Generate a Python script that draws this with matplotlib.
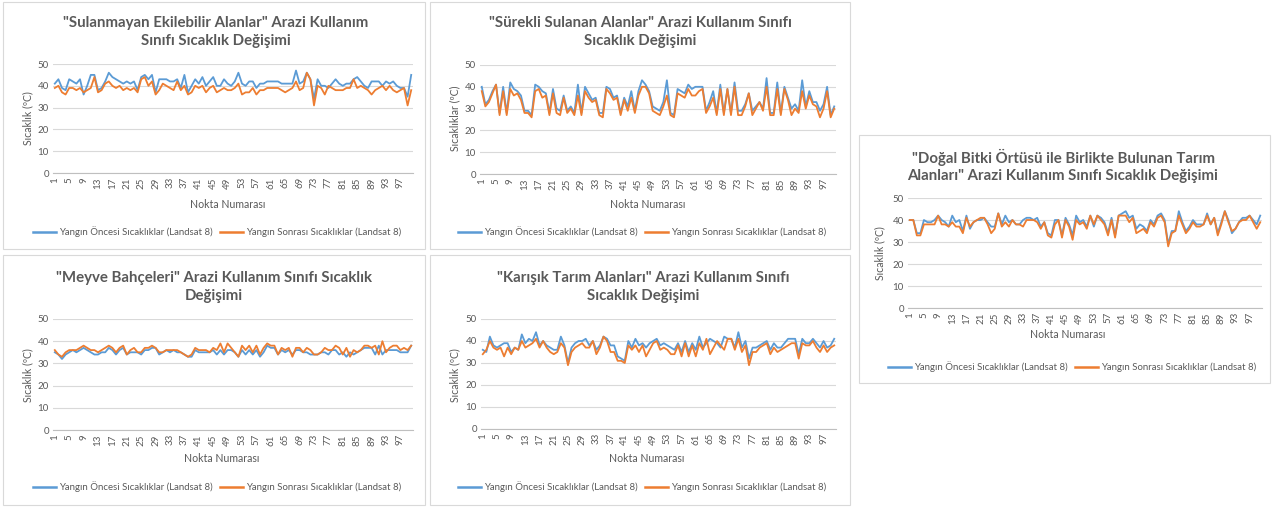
import matplotlib
matplotlib.use("agg")
import matplotlib.pyplot as plt
from matplotlib.patches import Rectangle
from matplotlib.lines import Line2D

plt.rcParams['font.family'] = ['Lato', 'DejaVu Sans']

W, H = 1274, 508
BLUE = '#5B9BD5'
ORANGE = '#ED7D31'
GRAY = '#595959'

legend_labels = ['Yangın Öncesi Sıcaklıklar (Landsat 8)', 'Yangın Sonrası Sıcaklıklar (Landsat 8)']
xlabel = 'Nokta Numarası'

# "Sulanmayan Ekilebilir Alanlar"
sulanmayan_once = [41, 43, 39, 38, 43, 42, 41, 43, 36, 40,
                   45, 45, 38, 39, 42, 46, 44, 43, 42, 41,
                   42, 41, 42, 38, 44, 45, 43, 45, 37, 43,
                   43, 43, 42, 42, 43, 39, 45, 37, 40, 43,
                   41, 44, 40, 42, 44, 40, 40, 43, 41, 40,
                   42, 46, 41, 40, 42, 42, 39, 41, 41, 42,
                   42, 42, 42, 41, 41, 41, 41, 47, 41, 42,
                   46, 43, 34, 43, 40, 40, 39, 41, 43, 41,
                   40, 41, 41, 43, 44, 42, 40, 39, 42, 42,
                   42, 40, 42, 41, 42, 40, 39, 39, 35, 45]
sulanmayan_sonra = [39, 40, 37, 36, 39, 39, 38, 39, 37, 38,
                    39, 44, 37, 38, 41, 42, 40, 39, 40, 38,
                    39, 38, 39, 37, 43, 44, 40, 42, 36, 38,
                    41, 40, 39, 38, 42, 38, 40, 36, 37, 40,
                    39, 40, 37, 39, 40, 37, 38, 39, 38, 38,
                    39, 41, 36, 37, 37, 39, 36, 38, 38, 39,
                    39, 39, 39, 38, 37, 38, 39, 42, 38, 39,
                    46, 43, 31, 40, 39, 36, 40, 39, 38, 38,
                    38, 39, 39, 43, 39, 40, 39, 38, 36, 38,
                    39, 40, 38, 40, 38, 37, 38, 39, 31, 38]

# "Sürekli Sulanan Alanlar"
surekli_once = [40, 32, 34, 38, 41, 28, 40, 28, 42, 39,
                38, 36, 29, 29, 27, 41, 40, 38, 37, 28,
                39, 30, 29, 36, 29, 31, 28, 41, 28, 40,
                37, 34, 35, 28, 28, 40, 39, 35, 36, 28,
                35, 31, 38, 29, 38, 43, 41, 38, 31, 30,
                29, 33, 43, 28, 27, 39, 38, 37, 41, 39,
                40, 40, 40, 29, 33, 38, 28, 41, 28, 39,
                28, 42, 29, 29, 32, 37, 29, 31, 33, 30,
                44, 28, 28, 42, 28, 40, 35, 30, 32, 29,
                43, 31, 38, 33, 33, 29, 32, 40, 27, 31]
surekli_sonra = [38, 31, 33, 37, 41, 27, 38, 27, 39, 36,
                 37, 34, 28, 28, 26, 38, 39, 35, 36, 27,
                 37, 28, 27, 35, 28, 30, 27, 36, 27, 38,
                 35, 33, 34, 27, 26, 39, 37, 34, 35, 27,
                 34, 29, 35, 28, 36, 40, 40, 37, 29, 28,
                 27, 31, 36, 27, 26, 37, 36, 35, 39, 36,
                 36, 38, 39, 28, 31, 35, 27, 39, 27, 39,
                 27, 40, 27, 27, 31, 37, 27, 30, 33, 29,
                 40, 27, 27, 39, 27, 39, 34, 27, 30, 28,
                 38, 30, 36, 32, 31, 26, 30, 38, 26, 30]

# "Meyve Bahçeleri"
meyve_once = [35, 34, 32, 34, 35, 36, 35, 36, 37, 36,
              35, 34, 34, 35, 35, 37, 36, 34, 36, 37,
              34, 35, 35, 35, 34, 36, 36, 37, 37, 34,
              35, 36, 35, 36, 35, 35, 34, 33, 33, 36,
              35, 35, 35, 35, 36, 34, 36, 34, 36, 36,
              35, 33, 36, 34, 36, 34, 36, 33, 35, 38,
              37, 37, 34, 36, 35, 36, 34, 36, 36, 35,
              35, 34, 34, 34, 35, 35, 34, 36, 36, 34,
              35, 33, 35, 34, 35, 36, 37, 37, 37, 34,
              38, 34, 36, 36, 36, 36, 35, 35, 35, 38]
meyve_sonra = [36, 34, 33, 35, 36, 36, 36, 37, 38, 37,
               36, 36, 35, 36, 37, 38, 37, 35, 37, 38,
               34, 36, 37, 35, 35, 37, 37, 38, 37, 35,
               35, 36, 36, 36, 36, 35, 34, 33, 34, 37,
               36, 36, 36, 35, 37, 36, 39, 35, 39, 37,
               35, 33, 38, 36, 38, 35, 38, 34, 37, 39,
               38, 38, 34, 37, 36, 37, 33, 37, 37, 35,
               37, 36, 34, 34, 35, 37, 36, 36, 38, 37,
               34, 37, 33, 36, 35, 36, 38, 38, 37, 38,
               34, 40, 35, 37, 38, 38, 36, 37, 36, 38]

# "Karışık Tarım Alanları"
karisik_once = [36, 35, 42, 38, 37, 38, 39, 39, 35, 37,
                36, 43, 39, 41, 40, 44, 38, 40, 38, 37,
                36, 36, 42, 38, 30, 37, 39, 40, 40, 41,
                38, 40, 36, 38, 42, 41, 38, 38, 33, 32,
                31, 40, 37, 41, 38, 39, 37, 39, 40, 41,
                38, 39, 38, 37, 36, 39, 35, 40, 35, 39,
                36, 42, 37, 39, 41, 40, 39, 37, 42, 41,
                41, 37, 44, 37, 40, 32, 37, 37, 38, 39,
                40, 36, 39, 37, 37, 39, 41, 41, 41, 34,
                41, 39, 39, 41, 39, 37, 40, 37, 38, 41]
karisik_sonra = [34, 36, 40, 37, 36, 37, 33, 37, 34, 37,
                 36, 40, 37, 38, 39, 41, 37, 40, 37, 35,
                 34, 35, 39, 37, 29, 35, 37, 38, 39, 37,
                 37, 40, 34, 37, 42, 40, 35, 35, 31, 31,
                 30, 38, 36, 38, 35, 38, 33, 36, 39, 40,
                 36, 37, 36, 34, 34, 38, 33, 39, 33, 38,
                 33, 39, 36, 41, 34, 37, 40, 38, 36, 41,
                 41, 36, 41, 35, 38, 29, 35, 35, 37, 38,
                 39, 34, 37, 35, 36, 37, 38, 39, 39, 32,
                 39, 38, 38, 40, 37, 35, 38, 35, 37, 38]

# "Doğal Bitki Örtüsü ile Birlikte Bulunan Tarım Alanları"
dogal_once = [40, 40, 34, 34, 40, 39, 39, 40, 42, 40,
              39, 37, 42, 39, 40, 35, 42, 36, 39, 40,
              40, 41, 39, 37, 37, 43, 38, 42, 39, 40,
              38, 38, 40, 41, 41, 40, 41, 37, 39, 34,
              33, 40, 40, 33, 41, 38, 33, 42, 39, 40,
              37, 42, 37, 42, 41, 39, 34, 41, 33, 42,
              43, 44, 41, 42, 36, 38, 37, 35, 40, 38,
              42, 43, 40, 29, 35, 35, 44, 39, 35, 37,
              40, 38, 38, 38, 43, 38, 41, 34, 39, 44,
              40, 34, 36, 39, 41, 41, 42, 40, 38, 42]
dogal_sonra = [40, 40, 33, 33, 38, 38, 38, 38, 42, 38,
               38, 37, 39, 37, 37, 34, 41, 37, 39, 40,
               41, 41, 38, 34, 36, 43, 37, 39, 37, 40,
               38, 38, 37, 40, 40, 40, 39, 36, 39, 33,
               32, 38, 40, 32, 40, 37, 31, 40, 38, 39,
               36, 42, 38, 42, 40, 38, 33, 40, 32, 42,
               42, 42, 39, 41, 34, 35, 36, 34, 39, 37,
               41, 42, 39, 28, 34, 35, 42, 38, 34, 36,
               39, 37, 37, 38, 42, 38, 41, 33, 38, 44,
               39, 35, 36, 39, 40, 40, 42, 39, 36, 39]

points = list(range(1, 101))
tick_pos = list(range(1, 101, 4))

panels = [
    # title, ylabel, before, after, box(x0,y0,x1,y1), plot(x0,x1,y50,y0), title xy, xlabel xy, ylabel xy, legend xy
    ('"Sulanmayan Ekilebilir Alanlar" Arazi Kullanım\nSınıfı Sıcaklık Değişimi', 'Sıcaklık (ºC)',
     sulanmayan_once, sulanmayan_sonra, (3, 2, 425, 249), (53, 413, 64, 173),
     (216, 32), (228, 205), (28, 118), (217, 232)),
    ('"Sürekli Sulanan Alanlar" Arazi Kullanım Sınıfı\nSıcaklık Değişimi', 'Sıcaklıklar (ºC)',
     surekli_once, surekli_sonra, (430, 2, 850, 249), (480, 836, 65, 174),
     (640, 32), (648, 205), (455, 118), (642, 232)),
    ('"Meyve Bahçeleri" Arazi Kullanım Sınıfı Sıcaklık\nDeğişimi', 'Sıcaklık (ºC)',
     meyve_once, meyve_sonra, (3, 255, 425, 505), (53, 413, 319, 430),
     (214, 287), (222, 459), (28, 375), (217, 487)),
    ('"Karışık Tarım Alanları" Arazi Kullanım Sınıfı\nSıcaklık Değişimi', 'Sıcaklık (ºC)',
     karisik_once, karisik_sonra, (430, 255, 850, 505), (481, 836, 319, 429),
     (643, 287), (647, 459), (455, 375), (642, 487)),
    ('"Doğal Bitki Örtüsü ile Birlikte Bulunan Tarım\nAlanları" Arazi Kullanım Sınıfı Sıcaklık Değişimi', 'Sıcaklık (ºC)',
     dogal_once, dogal_sonra, (859, 135, 1270, 383), (908, 1262, 198, 308),
     (1063, 166), (1068, 335), (880, 253), (1072, 367)),
]

fig = plt.figure(figsize=(W / 100, H / 100), dpi=100)

for (title, ylab, once, sonra, box, plot, txy, xlxy, ylxy, lgxy) in panels:
    bx0, by0, bx1, by1 = box
    fig.patches.append(Rectangle((bx0 / W, 1 - by1 / H), (bx1 - bx0) / W, (by1 - by0) / H,
                                 transform=fig.transFigure, facecolor='white',
                                 edgecolor='#D9D9D9', linewidth=0.8, zorder=-5))
    px0, px1, py50, py0 = plot
    ax = fig.add_axes([px0 / W, 1 - py0 / H, (px1 - px0) / W, (py0 - py50) / H])
    ax.patch.set_alpha(0)
    ax.plot(points, once, color=BLUE, linewidth=1.3, label=legend_labels[0])
    ax.plot(points, sonra, color=ORANGE, linewidth=1.3, label=legend_labels[1])
    ax.set_xlim(0.5, 100.5)
    ax.set_ylim(0, 50)
    ax.set_yticks([0, 10, 20, 30, 40, 50])
    ax.set_xticks(tick_pos)
    ax.set_xticklabels([str(t) for t in tick_pos], rotation=90)
    ax.tick_params(axis='both', length=0, labelsize=7, labelcolor=GRAY, pad=3)
    ax.grid(axis='y', color='#D9D9D9', linewidth=0.8)
    ax.set_axisbelow(True)
    for s in ['top', 'right', 'left']:
        ax.spines[s].set_visible(False)
    ax.spines['bottom'].set_color('#BFBFBF')
    ax.spines['bottom'].set_linewidth(0.8)

    fig.text(txy[0] / W, 1 - txy[1] / H, title, ha='center', va='center', fontsize=10.8,
             fontweight='bold', color=GRAY, linespacing=1.35, multialignment='center')
    fig.text(xlxy[0] / W, 1 - xlxy[1] / H, xlabel, ha='center', va='center', fontsize=7.6, color=GRAY)
    fig.text(ylxy[0] / W, 1 - ylxy[1] / H, ylab, ha='center', va='center', fontsize=7.6,
             color=GRAY, rotation=90)
    handles = [Line2D([], [], color=BLUE, linewidth=1.8), Line2D([], [], color=ORANGE, linewidth=1.8)]
    fig.legend(handles, legend_labels, loc='center', bbox_to_anchor=(lgxy[0] / W, 1 - lgxy[1] / H),
               ncol=2, frameon=False, fontsize=6.9, handlelength=2.4, handletextpad=0.3,
               columnspacing=0.8, labelcolor=GRAY)

fig.savefig('out.png', dpi=100, facecolor='white')
